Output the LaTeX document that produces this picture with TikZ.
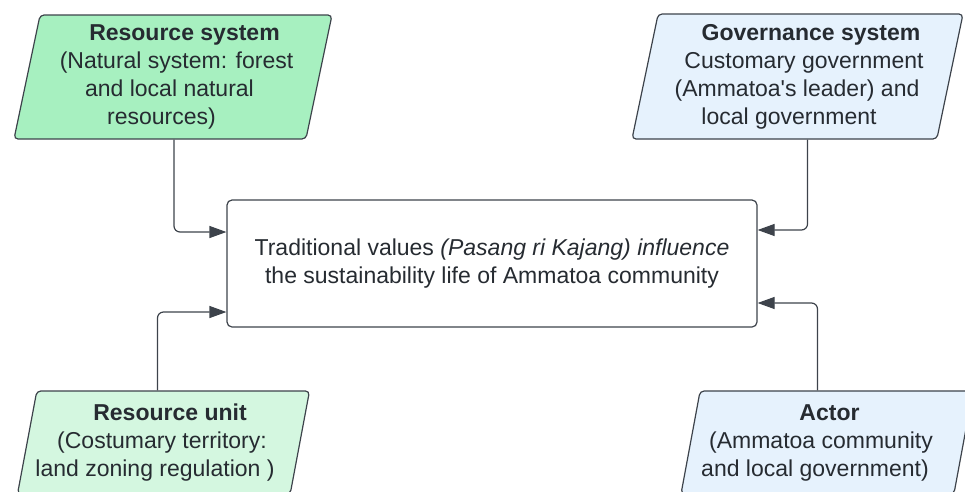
\documentclass[tikz,border=0pt]{standalone}
\usepackage{fontspec}
\setmainfont{Liberation Sans}
\usetikzlibrary{shapes.geometric,arrows.meta,calc}
\definecolor{edgegray}{HTML}{3D434B}
\definecolor{inkgray}{HTML}{262B31}
\definecolor{rsgreen}{HTML}{A7F0C0}
\definecolor{rugreen}{HTML}{D4F7E0}
\definecolor{govblue}{HTML}{E6F2FD}
% one line of a slanted box, moved sideways by half of #1
\newcommand{\sline}[2]{\makebox[0pt][c]{\hspace*{#1}#2}}
\tikzset{
  system/.style={trapezium, trapezium left angle=76, trapezium right angle=104,
    trapezium stretches body, draw=edgegray, line width=1.2pt, rounded corners=4pt,
    inner sep=0pt, align=center, text=inkgray, font=\fontsize{23}{28}\selectfont},
  corebox/.style={rectangle, draw=edgegray, line width=1.2pt, rounded corners=5pt,
    minimum width=530pt, minimum height=127pt, align=center, text=inkgray,
    font=\fontsize{23}{28}\selectfont},
  link/.style={draw=edgegray, line width=1.2pt, rounded corners=6pt,
    -{Triangle[length=17pt,width=12pt]}}
}
\begin{document}
\begin{tikzpicture}[x=1pt,y=-1pt]
  \useasboundingbox (0,0) rectangle (965,491);
  \clip (0,0) rectangle (965,491);
  \node[corebox] (core) at (492,263.5)
    {Traditional values \textit{(Pasang ri Kajang) influence}\\
     the sustainability life of Ammatoa community};
  \node[system, fill=rsgreen, minimum width=318pt, minimum height=124pt] (rs) at (173,77)
    {\sline{23pt}{\textbf{Resource system}}\\
     \sline{7pt}{(Natural system: forest}\\
     \sline{-7pt}{and local natural}\\
     \sline{-23pt}{resources)}};
  \node[system, fill=govblue, minimum width=331pt, minimum height=125pt] (gs) at (797.5,76.5)
    {\sline{27pt}{\textbf{Governance system}}\\
     \sline{13pt}{Customary government}\\
     \sline{-1pt}{(Ammatoa\textquotesingle s leader) and}\\
     \sline{-17pt}{local government}};
  \node[system, fill=rugreen, minimum width=292pt, minimum height=103pt] (ru) at (163.5,442.5)
    {\sline{13pt}{\textbf{Resource unit}}\\
     \sline{-3pt}{(Costumary territory:}\\
     \sline{-17pt}{land zoning regulation )}};
  \node[system, fill=govblue, minimum width=292pt, minimum height=103pt] (ac) at (827,442.5)
    {\sline{5pt}{\textbf{Actor}}\\
     \sline{-12pt}{(Ammatoa community}\\
     \sline{-24pt}{and local government)}};
  \begin{scope}[link]
    \draw ($(rs.center |- rs.bottom side)+(1,0)$) |- ([yshift=31.5pt]core.west);
    \draw ($(ru.center |- ru.top side)+(-6,0)$) |- ([yshift=-48.5pt]core.west);
    \draw ($(gs.center |- gs.bottom side)+(10,0)$) |- ([yshift=33.5pt]core.east);
    \draw ($(ac.center |- ac.top side)+(-9.5,0)$) |- ([yshift=-39.5pt]core.east);
  \end{scope}
\end{tikzpicture}
\end{document}
